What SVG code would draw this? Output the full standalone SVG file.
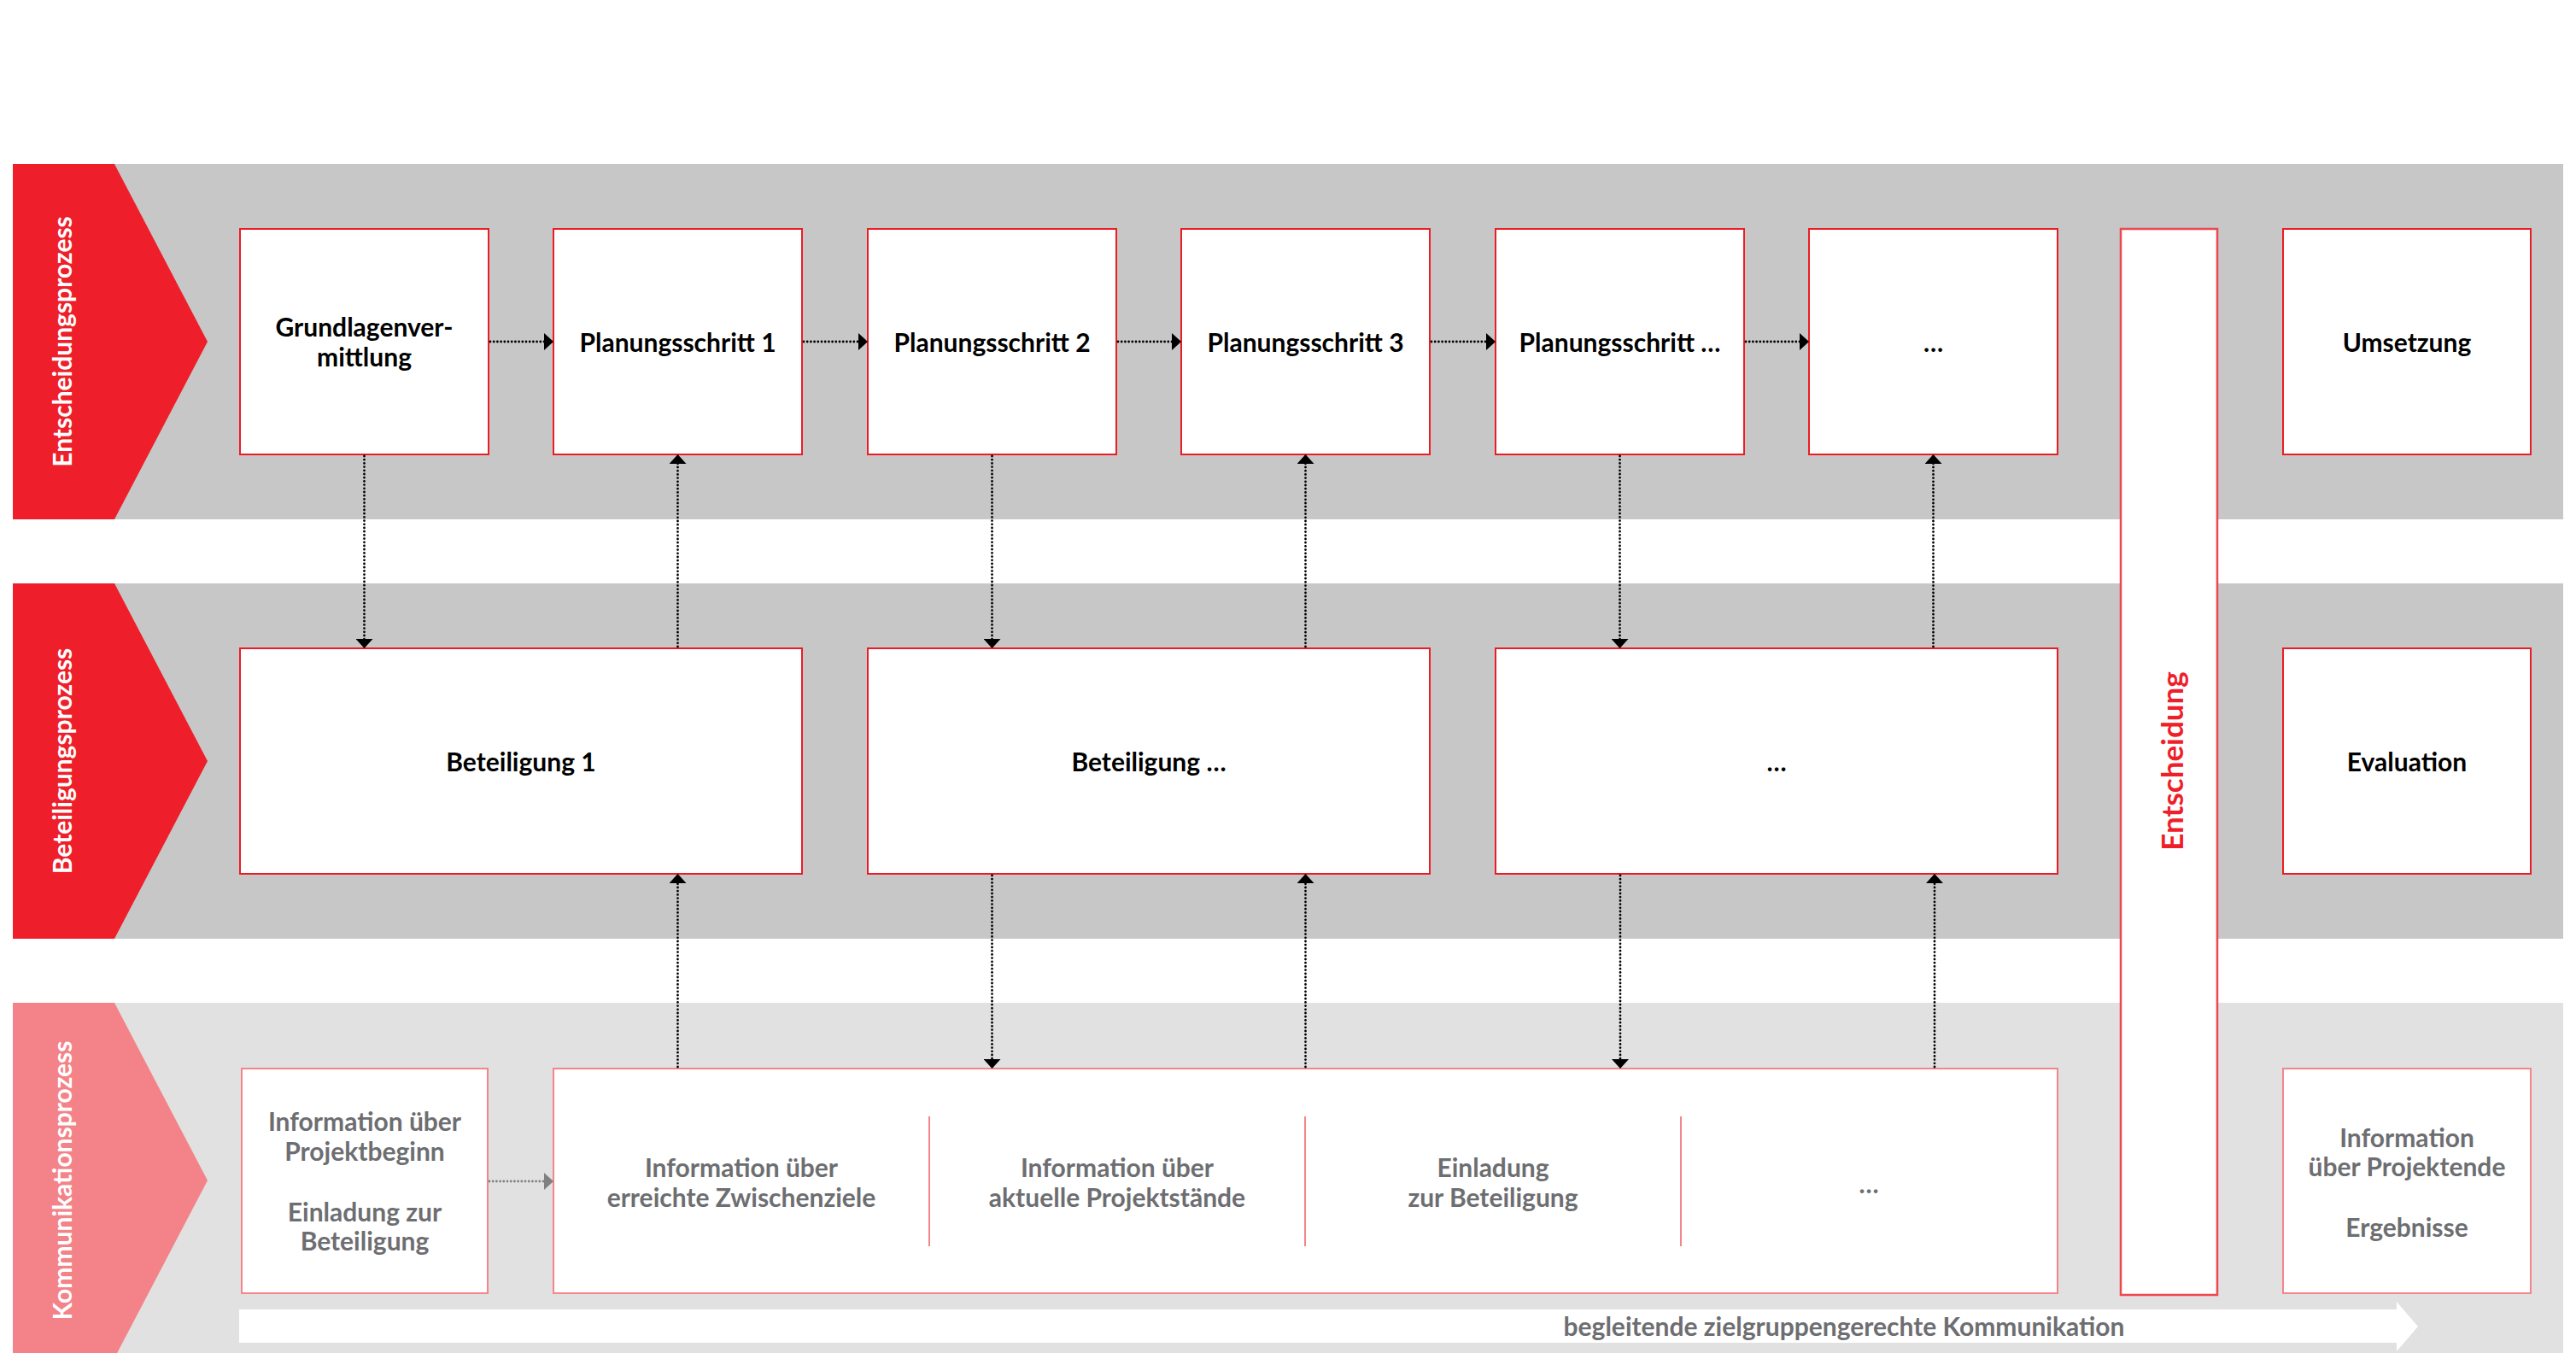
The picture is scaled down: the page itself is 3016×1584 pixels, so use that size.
<svg xmlns="http://www.w3.org/2000/svg" width="3016" height="1584" viewBox="0 0 3016 1584">
<defs>
<style>
.band1{fill:#c6c7c6}
.band3{fill:#e0e1e0}
.red{fill:#ee1f2a}
.pink{fill:#f38388}
.box{fill:#fff;stroke:#ed1c24;stroke-width:2}
.boxp{fill:#fff;stroke:#f4858b;stroke-width:2}
.sep{stroke:#f4858b;stroke-width:2}
.t{font-family:Lato,"Open Sans","Liberation Sans",sans-serif;font-weight:700;font-size:30px;fill:#000;text-anchor:middle}
.g{fill:#6d6e71}
.lbl{font-family:Lato,"Open Sans","Liberation Sans",sans-serif;font-weight:700;font-size:30px;fill:#fff;text-anchor:middle}
.con{fill:none;stroke:#000;stroke-width:2.8;stroke-linecap:round;stroke-dasharray:0 4.2}
.cong{fill:none;stroke:#808080;stroke-width:2.8;stroke-linecap:round;stroke-dasharray:0 4.2}
</style>
<marker id="ah" markerUnits="userSpaceOnUse" markerWidth="12" markerHeight="20" refX="11" refY="10" orient="auto" viewBox="0 0 12 20">
<path d="M0,0 L11,10 L0,20 Z" fill="#000"/>
</marker>
<marker id="ahg" markerUnits="userSpaceOnUse" markerWidth="12" markerHeight="20" refX="11" refY="10" orient="auto" viewBox="0 0 12 20">
<path d="M0,0 L11,10 L0,20 Z" fill="#808080"/>
</marker>
</defs>
<rect width="3016" height="1584" fill="#fff"/>

<g id="bands">
<rect class="band1" x="15" y="192" width="2986" height="416"/>
<rect class="band1" x="15" y="683" width="2986" height="416"/>
<rect class="band3" x="15" y="1174" width="2986" height="420"/>
<polygon class="red" points="15,192 134,192 243,400 134,608 15,608"/>
<polygon class="red" points="15,683 134,683 243,891 134,1099 15,1099"/>
<polygon class="pink" points="15,1174 134,1174 243,1382 134,1590 15,1590"/>
<text class="lbl" transform="translate(84,400) rotate(-90)">Entscheidungsprozess</text>
<text class="lbl" transform="translate(84,891) rotate(-90)">Beteiligungsprozess</text>
<text class="lbl" transform="translate(84,1382) rotate(-90)">Kommunikationsprozess</text>
</g>

<g id="komm-arrow">
<polygon points="280,1533 2806,1533 2806,1524 2831,1553 2806,1582 2806,1572 280,1572" fill="#fff"/>
<text class="t g" x="2159" y="1564">begleitende zielgruppengerechte Kommunikation</text>
</g>

<g id="n-grundlagen"><rect class="box" x="281" y="268" width="291" height="264"/><text class="t" x="426.5" y="394">Grundlagenver-</text><text class="t" x="426.5" y="429">mittlung</text></g>
<g id="n-ps1"><rect class="box" x="648" y="268" width="291" height="264"/><text class="t" x="793.5" y="412">Planungsschritt 1</text></g>
<g id="n-ps2"><rect class="box" x="1016" y="268" width="291" height="264"/><text class="t" x="1161.5" y="412">Planungsschritt 2</text></g>
<g id="n-ps3"><rect class="box" x="1383" y="268" width="291" height="264"/><text class="t" x="1528.5" y="412">Planungsschritt 3</text></g>
<g id="n-psx"><rect class="box" x="1751" y="268" width="291" height="264"/><text class="t" x="1896.5" y="412">Planungsschritt …</text></g>
<g id="n-top-more"><rect class="box" x="2118" y="268" width="291" height="264"/><text class="t" x="2263.5" y="412">…</text></g>
<g id="n-umsetzung"><rect class="box" x="2673" y="268" width="290" height="264"/><text class="t" x="2818" y="412">Umsetzung</text></g>

<g id="n-bet1"><rect class="box" x="281" y="759" width="658" height="264"/><text class="t" x="610" y="903">Beteiligung 1</text></g>
<g id="n-betx"><rect class="box" x="1016" y="759" width="658" height="264"/><text class="t" x="1345" y="903">Beteiligung …</text></g>
<g id="n-mid-more"><rect class="box" x="1751" y="759" width="658" height="264"/><text class="t" x="2080" y="903">…</text></g>
<g id="n-evaluation"><rect class="box" x="2673" y="759" width="290" height="264"/><text class="t" x="2818" y="903">Evaluation</text></g>

<g id="n-entscheidung"><rect x="2483" y="268" width="113" height="1248" fill="#fff" stroke="#ef4650" stroke-width="2.5"/><text class="t" transform="translate(2556,891) rotate(-90)" style="fill:#ee1f2a;font-size:35px">Entscheidung</text></g>

<g id="n-info-beginn"><rect class="boxp" x="283" y="1251" width="288" height="263"/>
<text class="t g" x="427" y="1324">Information über</text><text class="t g" x="427" y="1359">Projektbeginn</text>
<text class="t g" x="427" y="1430">Einladung zur</text><text class="t g" x="427" y="1464">Beteiligung</text></g>

<g id="n-komm-main"><rect class="boxp" x="648" y="1251" width="1761" height="263"/>
<line class="sep" x1="1088" y1="1307" x2="1088" y2="1459"/>
<line class="sep" x1="1528" y1="1307" x2="1528" y2="1459"/>
<line class="sep" x1="1968" y1="1307" x2="1968" y2="1459"/>
<text class="t g" x="868" y="1378">Information über</text><text class="t g" x="868" y="1413">erreichte Zwischenziele</text>
<text class="t g" x="1308" y="1378">Information über</text><text class="t g" x="1308" y="1413">aktuelle Projektstände</text>
<text class="t g" x="1748" y="1378">Einladung</text><text class="t g" x="1748" y="1413">zur Beteiligung</text>
<text class="t g" x="2188" y="1397">…</text></g>

<g id="n-info-ende"><rect class="boxp" x="2673" y="1251" width="290" height="263"/>
<text class="t g" x="2818" y="1343">Information</text><text class="t g" x="2818" y="1377">über Projektende</text>
<text class="t g" x="2818" y="1448">Ergebnisse</text></g>

<g id="connectors">
<line class="con" x1="574" y1="400" x2="648" y2="400" marker-end="url(#ah)"/>
<line class="con" x1="941" y1="400" x2="1016" y2="400" marker-end="url(#ah)"/>
<line class="con" x1="1309" y1="400" x2="1383" y2="400" marker-end="url(#ah)"/>
<line class="con" x1="1676" y1="400" x2="1751" y2="400" marker-end="url(#ah)"/>
<line class="con" x1="2044" y1="400" x2="2118" y2="400" marker-end="url(#ah)"/>
<line class="cong" x1="573" y1="1383" x2="648" y2="1383" marker-end="url(#ahg)"/>

<line class="con" x1="426.5" y1="534" x2="426.5" y2="759" marker-end="url(#ah)"/>
<line class="con" x1="793.5" y1="757" x2="793.5" y2="532" marker-end="url(#ah)"/>
<line class="con" x1="1161.5" y1="534" x2="1161.5" y2="759" marker-end="url(#ah)"/>
<line class="con" x1="1528.5" y1="757" x2="1528.5" y2="532" marker-end="url(#ah)"/>
<line class="con" x1="1896.5" y1="534" x2="1896.5" y2="759" marker-end="url(#ah)"/>
<line class="con" x1="2263.5" y1="757" x2="2263.5" y2="532" marker-end="url(#ah)"/>

<line class="con" x1="793.5" y1="1249" x2="793.5" y2="1023" marker-end="url(#ah)"/>
<line class="con" x1="1161.5" y1="1025" x2="1161.5" y2="1251" marker-end="url(#ah)"/>
<line class="con" x1="1528.5" y1="1249" x2="1528.5" y2="1023" marker-end="url(#ah)"/>
<line class="con" x1="1897" y1="1025" x2="1897" y2="1251" marker-end="url(#ah)"/>
<line class="con" x1="2265" y1="1249" x2="2265" y2="1023" marker-end="url(#ah)"/>
</g>
</svg>
